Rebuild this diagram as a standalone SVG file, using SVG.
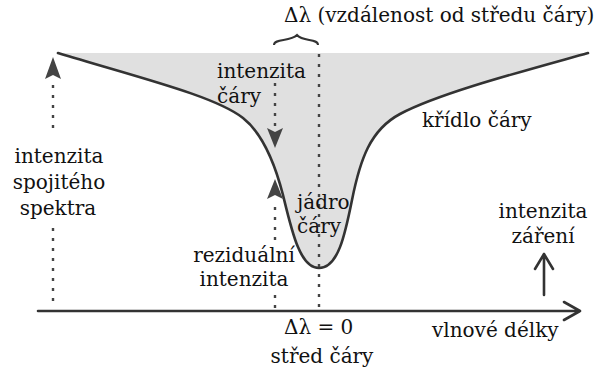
<svg xmlns="http://www.w3.org/2000/svg" width="597" height="374" viewBox="0 0 597 374">
<defs>
<style>
text{font-family:"DejaVu Serif","Liberation Serif",serif;font-size:20px;fill:#111}
.curve{fill:none;stroke:#333;stroke-width:2.6;stroke-linecap:round}
.dot{fill:none;stroke:#444;stroke-width:2.4;stroke-dasharray:3 7}
.head{fill:#444;stroke:none}
.axis{fill:none;stroke:#333;stroke-width:2.6;stroke-linecap:round;stroke-linejoin:round}
.mid{text-anchor:middle}
</style>
</defs>
<rect width="597" height="374" fill="#fff"/>
<g id="profile">
<path d="M58,53 L588,53 C520,72 440,93 400,114 C370,130 360,160 352,200 C345,235 338,268 319,268 C300,268 292,232 283,195 C274,160 262,133 243,118 C215,96 140,78 58,53 Z" fill="#e0e0e0"/>
<path class="curve" d="M58,53 C140,78 215,96 243,118 C262,133 274,160 283,195 C292,232 300,268 319,268 C338,268 345,235 352,200 C360,160 370,130 400,114 C440,93 520,72 588,53"/>
</g>
<g id="connectors">
<path class="axis" d="M38,311 L580,311 M564,302 L580,311 L564,320"/>
<path class="axis" d="M544,295 L544,254 M535,269 L544,254 L553,269"/>
<path class="dot" d="M319,54 L319,310"/>
<path class="dot" d="M53,128 L53,82"/>
<path class="head" d="M53,57 L61,79 L53,75 L45,79 Z"/>
<path class="dot" d="M53,228 L53,308"/>
<path class="dot" d="M275,83 L275,130"/>
<path class="head" d="M275,148 L283,128 L275,132 L267,128 Z"/>
<path class="dot" d="M275,240 L275,200"/>
<path class="head" d="M275,179 L283,199 L275,195 L267,199 Z"/>
<path class="dot" d="M275,295 L275,309"/>
<path d="M274,45 C274,38 290,42 297,35 C303,42 318,38 318,45" fill="none" stroke="#333" stroke-width="2"/>
</g>
<g id="labels">
<text x="284" y="22">Δλ (vzdálenost od středu čáry)</text>
<text x="217" y="78">intenzita</text>
<text x="217" y="103">čáry</text>
<text x="422" y="127">křídlo čáry</text>
<text class="mid" x="59" y="163">intenzita</text>
<text class="mid" x="59" y="189">spojitého</text>
<text class="mid" x="58" y="215">spektra</text>
<text x="297" y="209">jádro</text>
<text x="297" y="233">čáry</text>
<text class="mid" x="244" y="262">reziduální</text>
<text class="mid" x="244" y="286">intenzita</text>
<text class="mid" x="543" y="218">intenzita</text>
<text class="mid" x="543" y="243">záření</text>
<text x="284" y="334">Δλ = 0</text>
<text x="432" y="337">vlnové délky</text>
<text class="mid" x="322" y="363">střed čáry</text>
</g>
</svg>
